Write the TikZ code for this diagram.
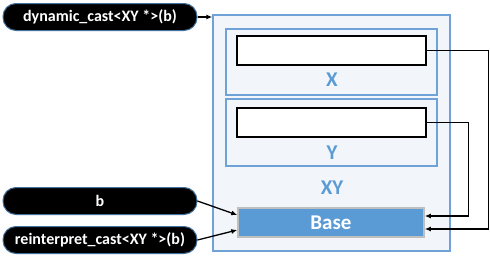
\documentclass[tikz,border=0pt]{standalone}
\usepackage{fontspec}
\setmainfont{Carlito}
\usepackage{tikz}
\usetikzlibrary{arrows.meta, positioning}

\definecolor{xyblue}{HTML}{5B9BD5}
\definecolor{xyline}{HTML}{6FA2D6}
\definecolor{xyfill}{HTML}{F2F6FB}
\definecolor{pillline}{HTML}{41719C}

\begin{document}
\begin{tikzpicture}[
  x=1pt, y=-1pt,
  pill/.style  = {draw=pillline, fill=black, text=white, rounded corners=13pt,
                  line width=1pt, minimum width=194pt, minimum height=27pt,
                  inner sep=0pt, font=\fontsize{16}{18}\selectfont\bfseries},
  frame/.style = {draw=xyline, fill=xyfill, line width=1.3pt, inner sep=0pt},
  field/.style = {draw=black, fill=white, line width=1.5pt, inner sep=0pt,
                  minimum width=189pt, minimum height=29pt},
  tag/.style   = {text=xyblue, font=\fontsize{21}{23}\selectfont\bfseries},
  arrow/.style = {-{Latex[length=6pt,width=5pt]}, line width=1.3pt},
]
\useasboundingbox (0,0) rectangle (490,260);

% Class layout
\node[frame, minimum width=237pt, minimum height=236pt] (xy) at (331.5,133) {};
\node[frame, minimum width=211pt, minimum height=66pt]  (xbox) at (331.5,62) {};
\node[frame, minimum width=211pt, minimum height=67pt]  (ybox) at (331.5,132.5) {};
\node[field] (xfield) at (331.5,50.5) {};
\node[field] (yfield) at (331.5,122.5) {};
\node[tag] (xlab)  at (332,80)  {X};
\node[tag] (ylab)  at (332,153) {Y};
\node[tag] (xylab) at (332,188) {XY};
\node[draw=black!25, fill=xyblue, line width=1.5pt, minimum width=186pt,
      minimum height=29pt, inner sep=0pt, text=white,
      font=\fontsize{21}{23}\selectfont\bfseries] (base) at (331,222.5) {Base};

% Pointers
\node[pill] (dyn)   at (100,17)  {dynamic\_cast<XY *>(b)};
\node[pill] (bvar)  at (100,201) {b};
\node[pill] (reint) at (100,240) {reinterpret\_cast<XY *>(b)};

% Arrows
\draw[arrow] (dyn.east) -- (dyn.east -| xy.west);
\draw[arrow] (bvar.east)  -- ([yshift=7.5pt]base.west);
\draw[arrow] (reint.east) -- ([yshift=-7.5pt]base.west);
\draw[arrow] (xfield.east) -- ++(62,0) |- ([yshift=-6.5pt]base.east);
\draw[arrow] (yfield.east) -- ++(42,0) |- ([yshift=6.5pt]base.east);

\end{tikzpicture}
\end{document}
